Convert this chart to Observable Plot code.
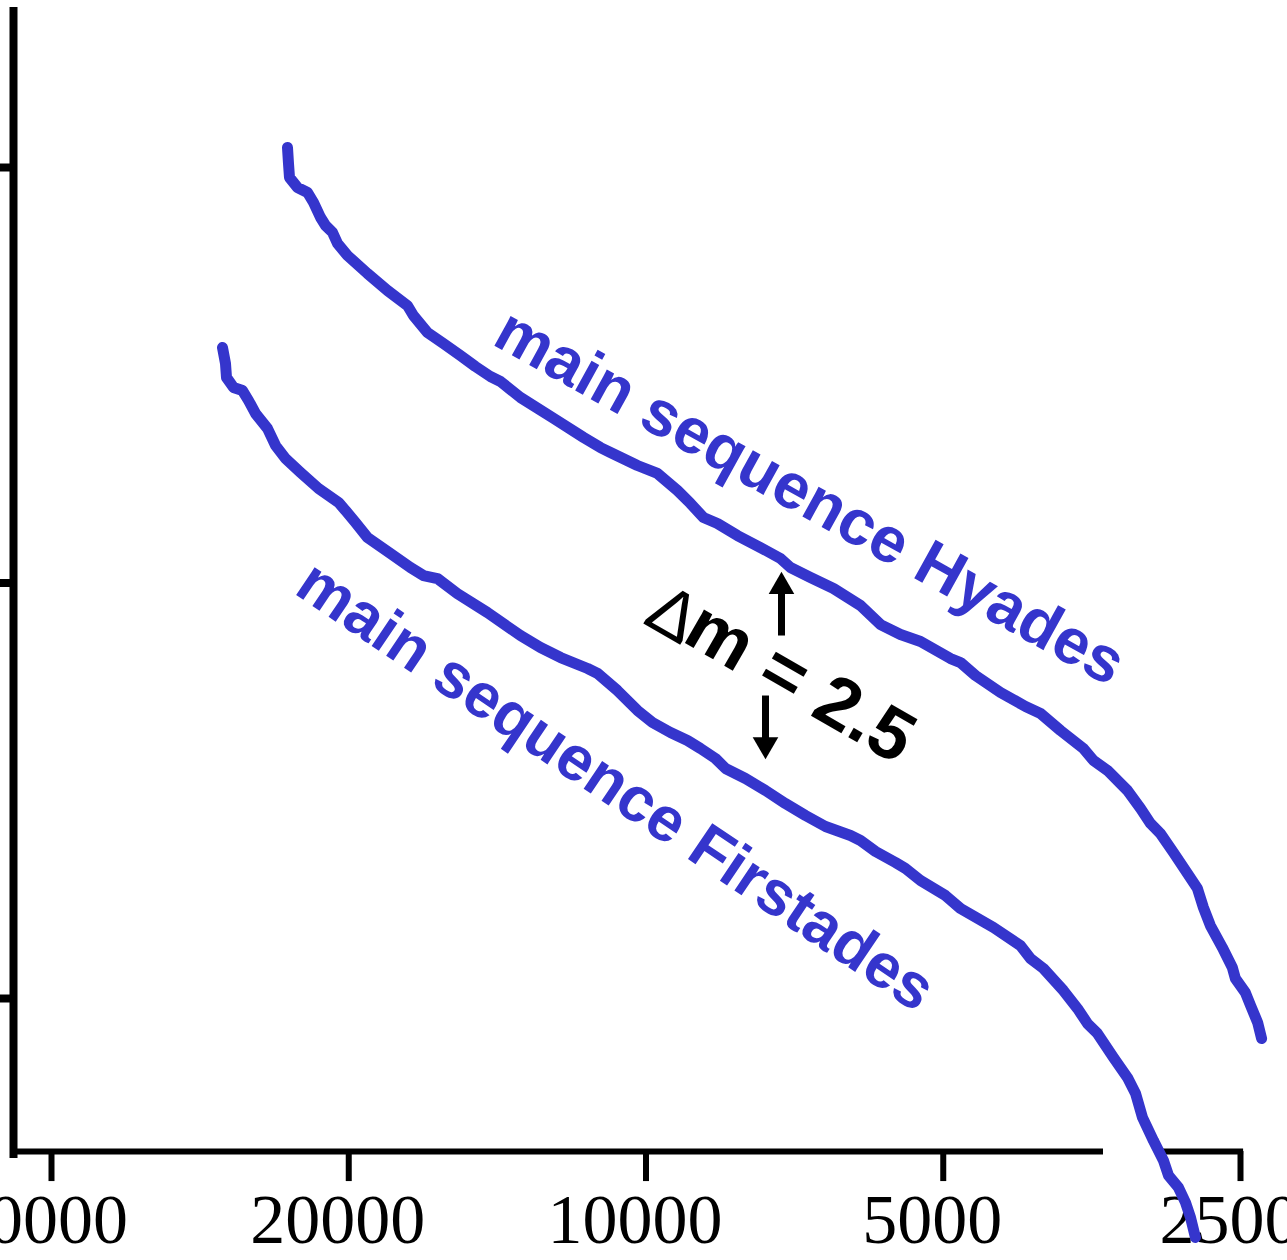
<!DOCTYPE html>
<html><head><meta charset="utf-8">
<script src="https://cdn.jsdelivr.net/npm/d3@7"></script>
<script src="https://cdn.jsdelivr.net/npm/@observablehq/plot@0.6"></script>
<style>html,body{margin:0;padding:0;background:#fff;} #chart svg{display:block;}</style>
</head><body><div id="chart"></div>
<script>
// Effective temperature (K) tick labels and magnitude ticks
const xTicks = [40000, 20000, 10000, 5000, 2500];
const yTicks = [0, 5, 10];

// main sequence Hyades: temperature (K) and magnitude
const hyadesT = [23071, 23017, 22964, 22539, 22018, 21712, 21360, 21112, 20771, 20530,
  20060, 19146, 18273, 17443, 17201, 16648, 16038, 15416, 14886, 14374,
  14040, 13400, 12403, 11565, 11120, 10864, 10201, 9736, 9292, 9015,
  8746, 8465, 8079, 7657, 7308, 7140, 6814, 6458, 6064, 5788,
  5524, 5272, 4916, 4803, 4638, 4375, 4127, 3985, 3804, 3606,
  3522, 3409, 3254, 3156, 3084, 3013, 2923, 2829, 2764, 2726,
  2682, 2608, 2548, 2530, 2472, 2442, 2402, 2380];
const hyadesM = [-0.241, -0.048, 0.120, 0.241, 0.301, 0.421, 0.602, 0.698, 0.782, 0.915,
  1.059, 1.276, 1.480, 1.661, 1.781, 1.986, 2.118, 2.262, 2.395, 2.515,
  2.575, 2.768, 3.020, 3.249, 3.370, 3.430, 3.586, 3.682, 3.887, 4.043,
  4.212, 4.284, 4.429, 4.573, 4.705, 4.814, 4.934, 5.066, 5.271, 5.500,
  5.620, 5.704, 5.909, 5.957, 6.113, 6.318, 6.486, 6.571, 6.775, 6.992,
  7.136, 7.256, 7.497, 7.714, 7.894, 8.015, 8.243, 8.496, 8.677, 8.905,
  9.122, 9.387, 9.627, 9.760, 9.928, 10.085, 10.289, 10.482];

// main sequence Firstades: temperature (K) and magnitude
const firstadesT = [26847, 26659, 26597, 26167, 25623, 25267, 24859, 24172, 23725, 23179,
  22380, 21460, 20482, 20150, 19689, 19146, 18146, 17321, 16804, 16264,
  15525, 14476, 13400, 12789, 12202, 11458, 11193, 10688, 10201, 9850,
  9445, 9078, 8807, 8504, 8308, 7930, 7568, 7224, 6894, 6580,
  6207, 6064, 5855, 5589, 5460, 5272, 4974, 4803, 4447, 4176,
  4079, 3958, 3778, 3656, 3572, 3490, 3362, 3254, 3193, 3142,
  3063, 2992, 2957, 2889, 2842, 2809, 2777];
const firstadesM = [2.166, 2.359, 2.527, 2.647, 2.684, 2.804, 2.960, 3.141, 3.345, 3.502,
  3.670, 3.863, 4.031, 4.128, 4.272, 4.453, 4.645, 4.814, 4.910, 4.946,
  5.127, 5.355, 5.632, 5.776, 5.897, 6.029, 6.089, 6.294, 6.534, 6.679,
  6.799, 6.896, 6.992, 7.112, 7.232, 7.353, 7.497, 7.654, 7.798, 7.930,
  8.039, 8.099, 8.231, 8.364, 8.436, 8.580, 8.761, 8.917, 9.146, 9.363,
  9.519, 9.639, 9.904, 10.121, 10.301, 10.421, 10.710, 10.951, 11.144, 11.432,
  11.709, 11.950, 12.130, 12.275, 12.455, 12.636, 12.876];

// curve labels (anchor in data units)
const labelTexts = ["main sequence Hyades", "main sequence Firstades"];
const labelT = [14374, 22801];
const labelM = [2.118, 5.114];
const labelAngles = [29, 34];

// Δm annotation
const deltaSymbol = "Δ";
const deltaText = "m = 2.5";
const deltaT = [10106, 9227];
const deltaM = [5.475, 5.692];
// arrows: temperature, from magnitude, to magnitude
const arrowT = [7291, 7568];
const arrowFromM = [5.632, 6.354];
const arrowToM = [5.042, 6.944];
const arrowDir = [0, 180];

// axis frame extents (data units)
const frameLeftT = 43706;
const frameTopM = -1.925;
const frameBottomM = 11.926;
const xAxisM = 11.841;
const xTickEndM = 12.203;
const xAxisFrom = [43706, 2992];
const xAxisTo = [3441, 2482];

const BLUE = "#3535cc";
const SANS = "'Liberation Sans', Arial, Helvetica, sans-serif";
const SERIF = "'Liberation Serif', 'Times New Roman', Times, serif";

const hyades = hyadesT.map((T, i) => ({T, m: hyadesM[i]}));
const firstades = firstadesT.map((T, i) => ({T, m: firstadesM[i]}));
const labels = labelTexts.map((text, i) => ({text, T: labelT[i], m: labelM[i], a: labelAngles[i]}));
const arrows = arrowT.map((T, i) => ({T, m1: arrowFromM[i], m2: arrowToM[i], r: arrowDir[i]}));
const xAxisSegs = xAxisFrom.map((a, i) => ({a, b: xAxisTo[i]}));

const plot = Plot.plot({
  width: 1287,
  height: 1260,
  marginLeft: 13,
  marginRight: 0,
  marginTop: 0,
  marginBottom: 109,
  style: {background: "#fff", color: "#000"},
  x: {type: "log", domain: [40000, 2500], range: [51, 1240]},
  y: {domain: [0, 10], range: [167, 998]},
  marks: [
    // axis lines and ticks
    Plot.ruleX([frameLeftT], {y1: frameTopM, y2: frameBottomM, stroke: "#000", strokeWidth: 8}),
    Plot.ruleY(xAxisSegs, {y: xAxisM, x1: "a", x2: "b", stroke: "#000", strokeWidth: 6}),
    Plot.ruleX(xTicks, {x: d => d, y1: xAxisM, y2: xTickEndM, stroke: "#000", strokeWidth: 6}),
    Plot.axisX(xTicks, {
      anchor: "bottom", tickSize: 0, tickPadding: 42,
      fill: "#000", fontSize: 70, fontFamily: SERIF, dx: -11,
      tickFormat: d3.format("d"), label: null
    }),
    Plot.axisY(yTicks, {
      anchor: "left", tickSize: 13, tickPadding: 0, strokeWidth: 8, stroke: "#000",
      tickFormat: () => "", label: null
    }),
    // curves
    Plot.line(hyades, {x: "T", y: "m", stroke: BLUE, strokeWidth: 11, strokeLinejoin: "round"}),
    Plot.line(firstades, {x: "T", y: "m", stroke: BLUE, strokeWidth: 11, strokeLinejoin: "round"}),
    // labels
    Plot.text([labels[0]], {x: "T", y: "m", text: "text", rotate: labels[0].a, textAnchor: "start", lineAnchor: "bottom",
      fill: BLUE, fontSize: 64, fontWeight: "bold", fontFamily: SANS}),
    Plot.text([labels[1]], {x: "T", y: "m", text: "text", rotate: labels[1].a, textAnchor: "start", lineAnchor: "bottom",
      fill: BLUE, fontSize: 63, fontWeight: "bold", fontFamily: SANS}),
    // Δm annotation
    Plot.text([deltaSymbol], {x: () => deltaT[0], y: () => deltaM[0], text: d => d, rotate: 30, textAnchor: "start", lineAnchor: "bottom",
      fill: "#000", fontSize: 70, fontWeight: "normal", fontFamily: SANS}),
    Plot.text([deltaText], {x: () => deltaT[1], y: () => deltaM[1], text: d => d, rotate: 30, textAnchor: "start", lineAnchor: "bottom",
      fill: "#000", fontSize: 73, fontWeight: "bold", fontFamily: SANS}),
    Plot.link(arrows, {x1: "T", x2: "T", y1: "m1", y2: "m2", stroke: "#000", strokeWidth: 7}),
    Plot.dot(arrows, {x: "T", y: "m2", symbol: "triangle", r: 9.5, fill: "#000", stroke: null, rotate: "r"})
  ]
});
document.getElementById("chart").appendChild(plot);
</script>
</body></html>
